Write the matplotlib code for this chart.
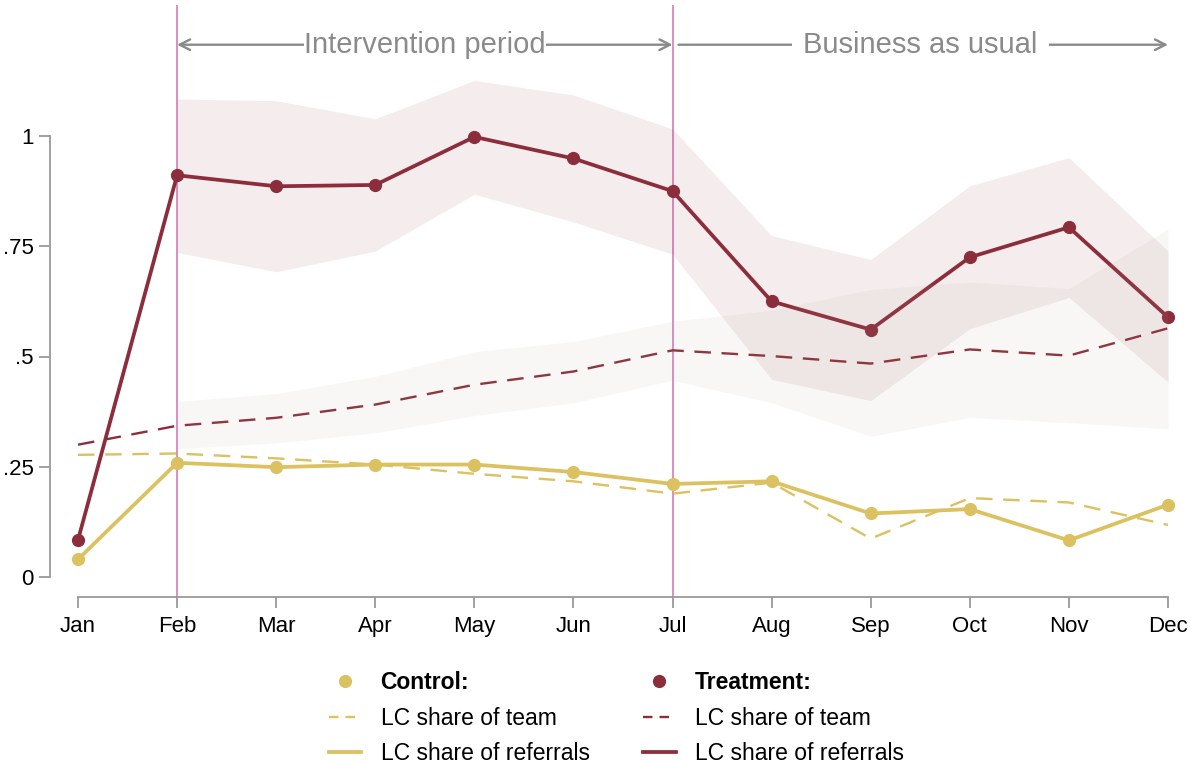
import numpy as np
import matplotlib.pyplot as plt
from matplotlib.lines import Line2D

plt.rcParams['font.family'] = ['Liberation Sans', 'DejaVu Sans']

# data
months = ['Jan', 'Feb', 'Mar', 'Apr', 'May', 'Jun', 'Jul', 'Aug', 'Sep', 'Oct', 'Nov', 'Dec']

treat_ref = [0.084, 0.911, 0.886, 0.889, 0.998, 0.949, 0.875, 0.625, 0.561, 0.725, 0.793, 0.589]
treat_ref_hi = [1.084, 1.080, 1.039, 1.126, 1.093, 1.016, 0.774, 0.720, 0.887, 0.951, 0.739]
treat_ref_lo = [0.736, 0.692, 0.739, 0.868, 0.805, 0.732, 0.448, 0.400, 0.563, 0.634, 0.442]

treat_team = [0.300, 0.343, 0.361, 0.391, 0.436, 0.466, 0.514, 0.501, 0.484, 0.516, 0.502, 0.564]
treat_team_hi = [0.398, 0.416, 0.455, 0.511, 0.534, 0.580, 0.605, 0.652, 0.669, 0.654, 0.789]
treat_team_lo = [0.291, 0.304, 0.327, 0.366, 0.395, 0.446, 0.395, 0.319, 0.362, 0.350, 0.336]

ctrl_ref = [0.040, 0.259, 0.249, 0.255, 0.255, 0.238, 0.211, 0.217, 0.144, 0.154, 0.083, 0.164]
ctrl_team = [0.277, 0.280, 0.269, 0.255, 0.234, 0.217, 0.189, 0.214, 0.087, 0.179, 0.169, 0.118]

yticks = [0, 0.25, 0.5, 0.75, 1]
ytick_labels = ['0', '.25', '.5', '.75', '1']

maroon = '#8c2d3b'
gold = '#dbc160'
grey = '#8a8a8a'
pink = '#d46fae'

x = np.arange(len(months))
xb = x[1:]  # confidence bands start in Feb

fig = plt.figure(figsize=(12.03, 7.63), dpi=100)
ax = fig.add_axes([78 / 1203, 166 / 763, 1090 / 1203, 592 / 763])

ax.fill_between(xb, treat_ref_lo, treat_ref_hi, color=maroon, alpha=0.09, lw=0, zorder=1)

ax.axvline(1, color=pink, lw=1.1, zorder=0.5)
ax.axvline(6, color=pink, lw=1.1, zorder=0.5)

ax.plot(x, ctrl_team, color=gold, lw=1.7, dashes=(7, 4.5), zorder=2)
ax.plot(x, treat_team, color=maroon, lw=1.7, dashes=(7, 4.5), zorder=2)
ax.plot(x, ctrl_ref, color=gold, lw=2.7, marker='o', ms=8.5, zorder=2.5, clip_on=False)
ax.plot(x, treat_ref, color=maroon, lw=2.7, marker='o', ms=8.5, zorder=2.5, clip_on=False)

ax.fill_between(xb, treat_team_lo, treat_team_hi, color='#b0a090', alpha=0.08, lw=0, zorder=3)

# spines first: moving a spine resets the tick labels
for s in ['top', 'right']:
    ax.spines[s].set_visible(False)
ax.spines['left'].set_position(('outward', 20))
ax.spines['left'].set_bounds(0, 1)
ax.spines['bottom'].set_bounds(0, 11)
for s in ['left', 'bottom']:
    ax.spines[s].set_color('#9a9a9a')
    ax.spines[s].set_linewidth(1.3)

ax.set_xlim(0, 11)
ax.set_ylim(-20 / 441, 572 / 441)
ax.set_xticks(x)
ax.set_xticklabels(months)
ax.set_yticks(yticks)
ax.set_yticklabels(ytick_labels)
ax.tick_params(axis='y', length=8, width=1.3, color='#9a9a9a', pad=4, labelsize=16)
ax.tick_params(axis='x', length=8, width=1.3, color='#9a9a9a', pad=6, labelsize=16)

# period arrows
ya = 1.207
ax.annotate('', xy=(1, ya), xytext=(6, ya), annotation_clip=False,
            arrowprops=dict(arrowstyle='<->,head_length=0.75,head_width=0.38', color=grey, lw=1.7,
                            shrinkA=0, shrinkB=0))
ax.annotate('', xy=(11, ya), xytext=(6.06, ya), annotation_clip=False,
            arrowprops=dict(arrowstyle='->,head_length=0.75,head_width=0.38', color=grey, lw=1.7,
                            shrinkA=0, shrinkB=0))
ax.text(3.5, ya, 'Intervention period', fontsize=21, color=grey, ha='center', va='center',
        bbox=dict(facecolor='white', edgecolor='none', pad=0), zorder=5)
ax.text(8.5, ya, 'Business as usual', fontsize=21, color=grey, ha='center', va='center',
        bbox=dict(facecolor='white', edgecolor='none', pad=8), zorder=5)

handles = [
    Line2D([], [], color=gold, marker='o', ms=8.5, ls='none'),
    Line2D([], [], color=gold, lw=1.7, dashes=(4, 3)),
    Line2D([], [], color=gold, lw=2.7),
    Line2D([], [], color=maroon, marker='o', ms=8.5, ls='none'),
    Line2D([], [], color=maroon, lw=1.7, dashes=(4, 3)),
    Line2D([], [], color=maroon, lw=2.7),
]
labels = ['Control:', 'LC share of team', 'LC share of referrals',
          'Treatment:', 'LC share of team', 'LC share of referrals']
leg = fig.legend(handles, labels, ncol=2, frameon=False, fontsize=16.5,
                 loc='upper left', bbox_to_anchor=(329 / 1203, 1 - 671 / 763),
                 borderpad=0, borderaxespad=0, handlelength=1.4, handletextpad=0.85,
                 columnspacing=2.35, labelspacing=0.55)
leg.get_texts()[0].set_fontweight('bold')
leg.get_texts()[3].set_fontweight('bold')

fig.savefig('out.png', dpi=100)
